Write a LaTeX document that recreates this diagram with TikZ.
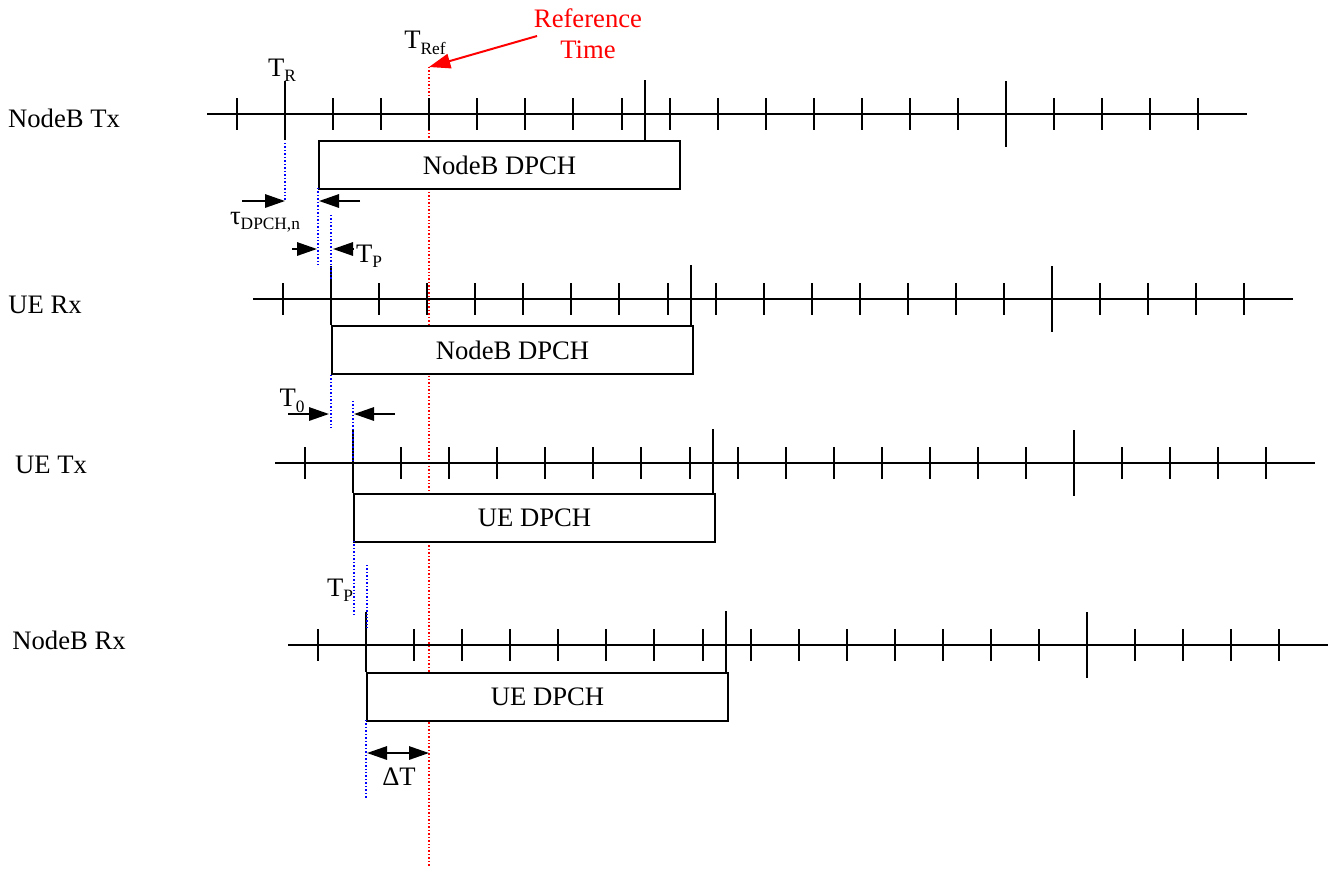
\documentclass[tikz,border=0pt]{standalone}
\usepackage{fontspec}
\setmainfont{Liberation Serif}
\usepackage{tikz}
\usetikzlibrary{arrows.meta}
\usetikzlibrary{positioning}
\definecolor{RefTimeColor}{HTML}{FF0000}
\definecolor{MarkerColor}{HTML}{0000FF}
\newcommand{\TimingFont}{\fontsize{20pt}{23pt}\selectfont}
\newcommand{\TimingSubFont}{\fontsize{13pt}{14pt}\selectfont}
\newcommand{\TimingSub}[1]{\raisebox{-4pt}{\TimingSubFont #1}}
% one timing axis: y, frame start, box left, box top, box name, box text
\newcommand{\TimingRow}[6]{%
    \draw[axis line] ({#2-78},#1) -- ({#2+962},#1);
    \foreach \k in {-1,1,2,...,19}
        \draw[slot tick] ({#2+48.07*\k},{#1-16}) -- ({#2+48.07*\k},{#1+16});
    \draw[frame tick] (#2,{#1-33}) -- (#2,#4);
    \draw[frame tick] ({#2+360},{#1-34}) -- ({#2+360},#4);
    \draw[frame tick] ({#2+721},{#1-33}) -- ({#2+721},{#1+33});
    \node[dpch box, anchor=north west] (#5) at (#3,#4) {#6};%
}
\tikzset{
  axis line/.style={line width=1.5pt},
  slot tick/.style={line width=1.5pt},
  frame tick/.style={line width=1.9pt},
  dpch box/.style={
    draw, fill=white, line width=1.5pt, inner sep=0pt,
    minimum width=270.75pt, minimum height=36pt, font=\TimingFont
  },
  row label/.style={font=\TimingFont},
  time label/.style={font=\TimingFont, inner sep=0pt},
  marker line/.style={draw=MarkerColor, line width=1.1pt, dash pattern=on 1.1pt off 1.5pt},
  ref line/.style={draw=RefTimeColor, line width=1.1pt, dash pattern=on 1.1pt off 1.5pt},
  gap arrow/.style={-{Triangle[length=15pt,width=10pt]}, line width=1.5pt},
  span arrow/.style={{Triangle[length=15pt,width=10pt]}-{Triangle[length=15pt,width=10pt]}, line width=1.5pt},
  ref arrow/.style={-{Triangle[length=16pt,width=11pt]}, line width=1.5pt, draw=RefTimeColor, fill=RefTimeColor}
}

\begin{document}
\begin{tikzpicture}[x=0.75pt, y=-0.75pt]
    \useasboundingbox (0,0) rectangle (1337,869);
    % reference time line, behind the boxes
    \coordinate (reftop) at (429,67);
    \coordinate (refbot) at (429,866);
    \draw[ref line] (reftop) -- (refbot);

    % the four timing rows
    \TimingRow{114}{285}{318}{140}{nbtxbox}{NodeB DPCH}
    \TimingRow{299}{331}{331}{325}{uerxbox}{NodeB DPCH}
    \TimingRow{463}{353}{353}{493}{uetxbox}{UE DPCH}
    \TimingRow{645}{366}{366}{672}{nbrxbox}{UE DPCH}

    \node[row label] (nbtx) at (64,118) {NodeB Tx};
    \node[row label] (uerx) at (45,305) {UE Rx};
    \node[row label] (uetx) at (51,465) {UE Tx};
    \node[row label] (nbrx) at (69,640) {NodeB Rx};

    % reference time
    \node[time label, text=RefTimeColor, align=center] (reftext) at (588,34) {Reference\\Time};
    \coordinate (refsrc) at (537,36);
    \draw[ref arrow] (refsrc) -- (reftop);
    \node[time label] (tref) at (425,43) {T\TimingSub{Ref}};
    \node[time label] (tr) at (282,70) {T\TimingSub{R}};

    % tau DPCH,n
    \coordinate (taua) at (285,143);
    \coordinate (taub) at (285,201);
    \coordinate (tauc) at (318,188);
    \coordinate (taud) at (318,265);
    \draw[marker line] (taua) -- (taub);
    \draw[marker line] (tauc) -- (taud);
    \coordinate (tauleft) at (242,201);
    \coordinate (tauright) at (360,201);
    \coordinate (tauhead) at (319,201);
    \draw[gap arrow] (tauleft) -- (taub);
    \draw[gap arrow] (tauright) -- (tauhead);
    \node[time label] (tau) at (265,222) {τ\TimingSub{DPCH,n}};

    % T_P downlink
    \coordinate (tpa) at (331,215);
    \coordinate (tpb) at (331,279);
    \draw[marker line] (tpa) -- (tpb);
    \coordinate (tpleft) at (292,249);
    \coordinate (tpright) at (353,249);
    \coordinate (tplefthead) at (317,249);
    \coordinate (tprighthead) at (333,249);
    \draw[gap arrow] (tpleft) -- (tplefthead);
    \draw[gap arrow] (tpright) -- (tprighthead);
    \node[time label] (tp) at (369,256) {T\TimingSub{P}};

    % T_0
    \coordinate (toa) at (331,375);
    \coordinate (tob) at (331,429);
    \coordinate (toc) at (353,401);
    \coordinate (tod) at (353,460);
    \draw[marker line] (toa) -- (tob);
    \draw[marker line] (toc) -- (tod);
    \coordinate (toleft) at (288,414);
    \coordinate (toright) at (395,414);
    \coordinate (tolefthead) at (329,414);
    \coordinate (torighthead) at (354,414);
    \draw[gap arrow] (toleft) -- (tolefthead);
    \draw[gap arrow] (toright) -- (torighthead);
    \node[time label] (tzero) at (292,401) {T\TimingSub{0}};

    % T_P uplink
    \coordinate (tpua) at (354,541);
    \coordinate (tpub) at (354,615);
    \coordinate (tpuc) at (367,565);
    \coordinate (tpud) at (367,628);
    \draw[marker line] (tpua) -- (tpub);
    \draw[marker line] (tpuc) -- (tpud);
    \node[time label] (tpu) at (340,590) {T\TimingSub{P}};

    % Delta T
    \coordinate (dta) at (366,720);
    \coordinate (dtb) at (366,798);
    \draw[marker line] (dta) -- (dtb);
    \coordinate (dtleft) at (367,753);
    \coordinate (dtright) at (429,753);
    \draw[span arrow] (dtleft) -- (dtright);
    \node[time label] (dt) at (399,777) {ΔT};
\end{tikzpicture}
\end{document}
